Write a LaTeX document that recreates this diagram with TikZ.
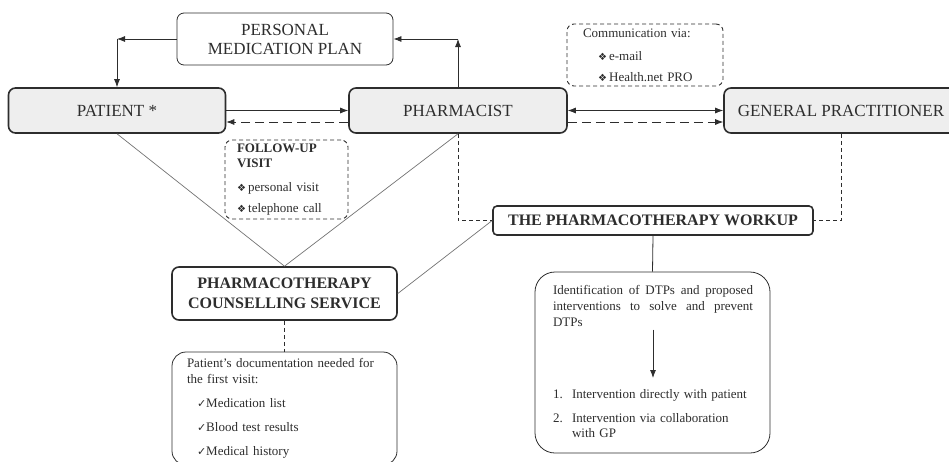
\documentclass[tikz,border=0pt]{standalone}
\usepackage{fontspec}
\setmainfont{Liberation Serif}
\newfontfamily\symfont{DejaVu Sans}
\usetikzlibrary{arrows.meta}
\definecolor{fc-ink}{RGB}   { 45,  45,  45}
\definecolor{fc-fill}{RGB}  {238, 238, 238}
\definecolor{fc-grey}{RGB}  {115, 115, 115}
\newcommand{\dia}{{\symfont\fontsize{10}{10}\selectfont ❖}\,}
\newcommand{\tick}{{\symfont\fontsize{11}{11}\selectfont ✓}}

\begin{document}
\begin{tikzpicture}[x=1pt,y=-1pt,
	box/.style={draw=fc-ink, rounded corners=7pt, line width=0.8pt, inner sep=0pt, align=center, text=fc-ink, font=\fontsize{17}{19}\selectfont},
	actor/.style={box, line width=1.6pt, fill=fc-fill},
	service/.style={box, line width=1.6pt, font=\fontsize{16}{20}\selectfont\bfseries},
	note/.style={box, dash pattern=on 4pt off 3pt, line width=0.9pt, align=left, font=\fontsize{13}{15}\selectfont},
	memo/.style={box, align=left, font=\fontsize{13}{16}\selectfont},
	plain/.style={inner sep=0pt, text=fc-ink, font=\fontsize{13}{16}\selectfont},
	conn/.style={draw=fc-ink, line width=0.8pt},
	tip/.style={-{Latex[length=8pt,width=6pt]}},
	link/.style={draw=fc-grey, line width=0.7pt},
	back/.style={conn, dash pattern=on 9pt off 5pt},
	fine/.style={conn, dash pattern=on 4pt off 3pt}
]
	\useasboundingbox (0,0) rectangle (949,461);
	\clip (0,0) rectangle (949,461);

	% boxes
	\node[box, minimum width=216pt, minimum height=52pt] (plan) at (285,39) {PERSONAL\\MEDICATION PLAN};
	\node[actor, minimum width=217pt, minimum height=45pt] (patient) at (117,110.5) {PATIENT *};
	\node[actor, minimum width=218pt, minimum height=45pt] (pharm) at (458,110.5) {PHARMACIST};
	\node[actor, minimum width=234pt, minimum height=45pt] (gp) at (841,110.5) {GENERAL PRACTITIONER};
	\node[note, minimum width=156pt, minimum height=62pt, text width=124pt] (comm) at (645,55)
		{Communication via:\\[8pt]\hspace*{15pt}\dia e-mail\\[6pt]\hspace*{15pt}\dia Health.net PRO};
	\node[note, minimum width=123pt, minimum height=79pt, text width=99pt] (follow) at (286.5,179.5)
		{{\bfseries FOLLOW-UP}\\{\bfseries VISIT}\\[9pt]\dia personal visit\\[6pt]\dia telephone call};
	\node[service, minimum width=225pt, minimum height=53pt] (pcs) at (284.5,293.5) {PHARMACOTHERAPY\\COUNSELLING SERVICE};
	\node[service, rounded corners=4pt, minimum width=320pt, minimum height=29pt] (workup) at (653,220.5) {THE PHARMACOTHERAPY WORKUP};
	\node[memo, rounded corners=14pt, minimum width=225pt, minimum height=113pt, text width=195pt] (doc) at (284.5,408.5)
		{Patient's documentation needed for\\the first visit:\\[8pt]
		\hspace*{10pt}\tick Medication list\\[8pt]
		\hspace*{10pt}\tick Blood test results\\[8pt]
		\hspace*{10pt}\tick Medical history};
	\node[box, rounded corners=20pt, minimum width=235pt, minimum height=181pt] (ident) at (652.5,362.5) {};
	\node[plain, anchor=north, text width=200pt, align=justify] (identtxt) at (653,285)
		{Identification of DTPs and proposed\linebreak interventions to solve and prevent\linebreak DTPs};
	\node[plain, anchor=north, text width=200pt, align=left, font=\fontsize{13}{15}\selectfont] (identlist) at (653,389)
		{\makebox[19pt][l]{1.}Intervention directly with patient\\[9pt]
		\makebox[19pt][l]{2.}Intervention via collaboration\\\hspace*{19pt}with GP};

	% connectors
	\coordinate (cornerL) at (patient.north |- plan.west);
	\coordinate (cornerR) at (pharm.north |- plan.east);
	\draw[conn, tip] (plan.west) -- (cornerL);
	\draw[conn, tip] (cornerL) -- (patient.north);
	\draw[conn, tip] (pharm.north) -- (cornerR);
	\draw[conn, tip] (cornerR) -- (plan.east);
	\draw[conn, tip] (patient.east) -- (pharm.west);
	\draw[back, tip] ([yshift=-11.5pt]pharm.west) -- ([yshift=-11.5pt]patient.east);
	\draw[conn, {Latex[length=8pt,width=6pt]}-{Latex[length=8pt,width=6pt]}] (pharm.east) -- (gp.west);
	\draw[back, tip] ([yshift=-11.5pt]pharm.east) -- ([yshift=-11.5pt]gp.west);
	\draw[link] (patient.south) -- (pcs.north);
	\draw[link] (pharm.south) -- (pcs.north);
	\draw[link] (pcs.east) -- (workup.west);
	\draw[fine] (pharm.south) |- (workup.west);
	\draw[fine] (gp.south) |- (workup.east);
	\draw[fine] (pcs.south) -- (doc.north);
	\draw[conn] (workup.south) -- (ident.north);
	\draw[conn, tip, shorten <=3pt, shorten >=11pt] (identtxt.south) -- (identlist.north);
\end{tikzpicture}
\end{document}
